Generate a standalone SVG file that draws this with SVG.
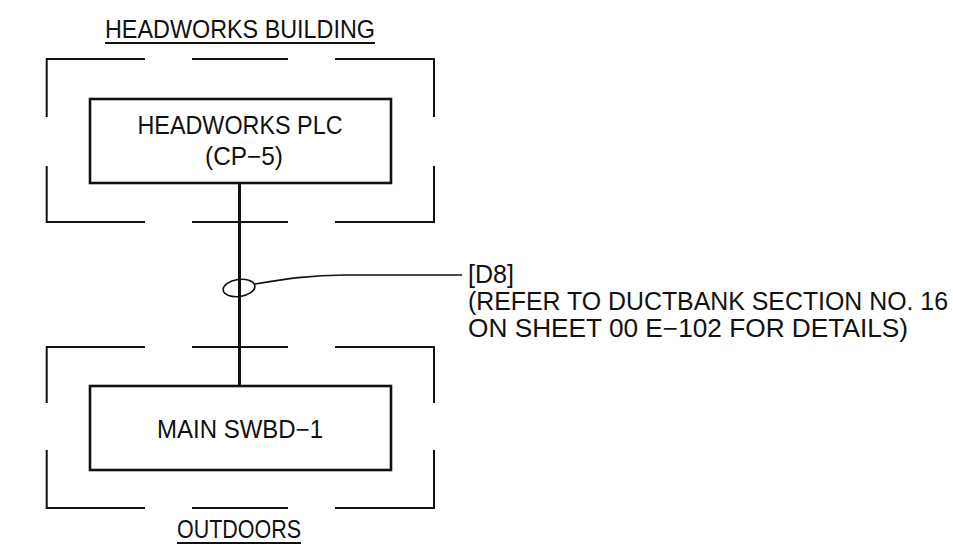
<svg xmlns="http://www.w3.org/2000/svg" width="953" height="546" viewBox="0 0 953 546">
<style>
.bg{fill:#fff}
.area{fill:none;stroke:#111;stroke-width:2}
.box{fill:none;stroke:#111;stroke-width:2.6}
.t{font-family:"Liberation Sans",Arial,sans-serif;font-size:25px;fill:#111}
.c{text-anchor:middle}
.ul{stroke:#111;stroke-width:1.8}
.wire{fill:none;stroke:#111;stroke-width:3}
.lead{fill:none;stroke:#111;stroke-width:1.6}
</style>
<rect class="bg" x="0" y="0" width="953" height="546"/>
<g id="area-headworks">
<path class="area" d="M46.7,117 V59 H145 M192,59 H288 M335,59 H434 V117 M46.7,166 V222 H145 M192,222 H288 M335,222 H434 V166"/>
<text class="t c" x="240" y="38" textLength="270" lengthAdjust="spacingAndGlyphs">HEADWORKS BUILDING</text>
<line class="ul" x1="105" y1="43" x2="375" y2="43"/>
</g>
<g id="area-outdoors">
<path class="area" d="M46.7,403 V347 H145 M192,347 H288 M335,347 H434 V403 M46.7,450 V508 H145 M192,508 H288 M335,508 H434 V450"/>
<text class="t c" x="239" y="538" textLength="124" lengthAdjust="spacingAndGlyphs">OUTDOORS</text>
<line class="ul" x1="177" y1="543" x2="301" y2="543"/>
</g>
<g id="node-plc">
<rect class="box" x="90" y="99" width="301" height="84"/>
<text class="t c" x="240" y="134" textLength="205" lengthAdjust="spacingAndGlyphs">HEADWORKS PLC</text>
<text class="t c" x="244" y="165" textLength="78" lengthAdjust="spacingAndGlyphs">(CP−5)</text>
</g>
<g id="node-swbd">
<rect class="box" x="90" y="386" width="301" height="84"/>
<text class="t c" x="240" y="438" textLength="166" lengthAdjust="spacingAndGlyphs">MAIN SWBD−1</text>
</g>
<g id="connectors">
<line class="wire" x1="239.5" y1="183" x2="239.5" y2="386"/>
<ellipse class="lead" cx="239" cy="288" rx="16" ry="8.5" transform="rotate(-8 239 288)"/>
<path class="lead" d="M255,284 C285,279 310,275 345,275 H462"/>
</g>
<g id="label-d8">
<text class="t" x="468" y="283" textLength="46" lengthAdjust="spacingAndGlyphs">[D8]</text>
<text class="t" x="468" y="310" textLength="480" lengthAdjust="spacingAndGlyphs">(REFER TO DUCTBANK SECTION NO. 16</text>
<text class="t" x="468" y="337" textLength="440" lengthAdjust="spacingAndGlyphs">ON SHEET 00 E−102 FOR DETAILS)</text>
</g>
</svg>
